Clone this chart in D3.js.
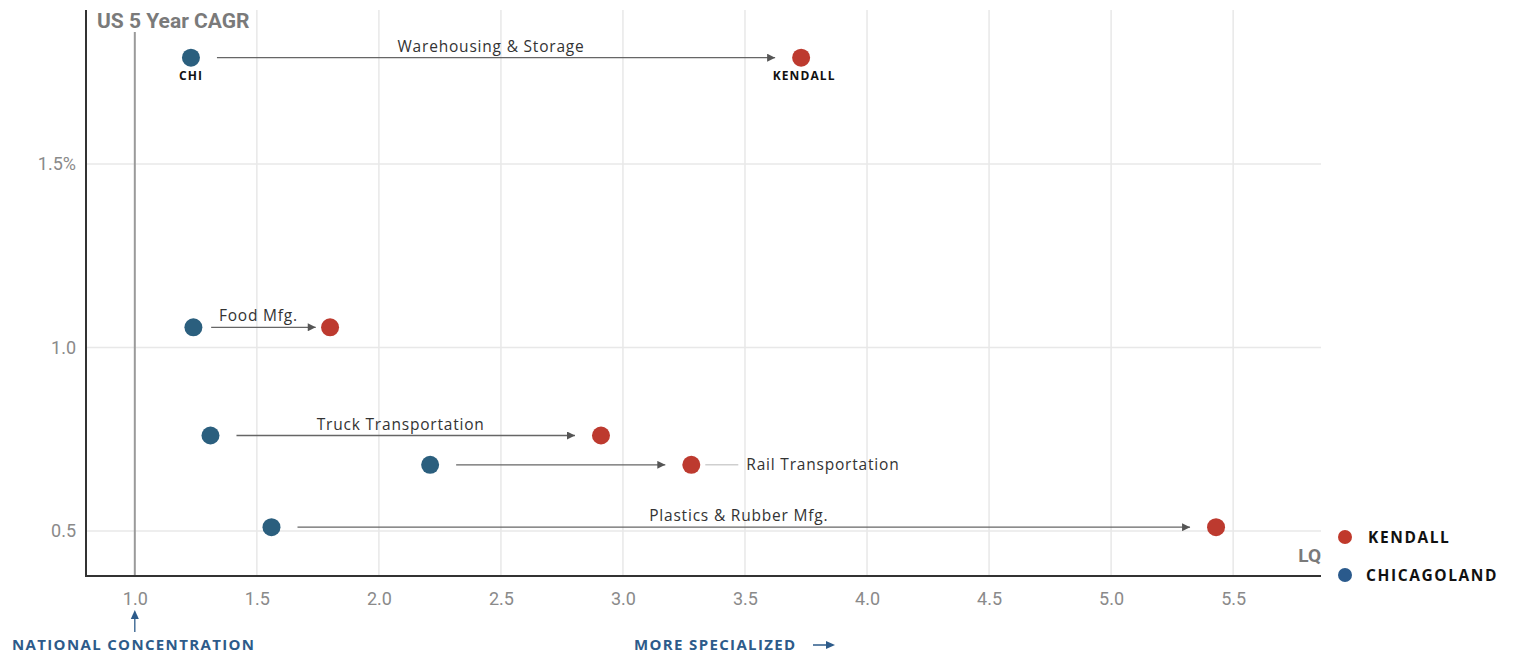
<!DOCTYPE html>
<html>
<head>
<meta charset="utf-8">
<script src="https://cdn.jsdelivr.net/npm/d3@7"></script>
<style>
  html, body { margin: 0; padding: 0; background: #fff; }
  svg { display: block; }
</style>
</head>
<body>
<svg id="chart" width="1519" height="653"></svg>
<script>
// Industry clusters: location quotient (LQ) for Chicagoland vs. Kendall,
// plotted against US 5-year CAGR.
const industries = ["Warehousing & Storage", "Food Mfg.", "Truck Transportation", "Rail Transportation", "Plastics & Rubber Mfg."];
const chicagolandLQ = [1.23, 1.24, 1.31, 2.21, 1.56];
const kendallLQ = [3.73, 1.80, 2.91, 3.28, 5.43];
const usCagr = [1.79, 1.055, 0.76, 0.68, 0.51];
const labelPlacement = ["above", "above", "above", "right", "above"];

const xTicks = [1.0, 1.5, 2.0, 2.5, 3.0, 3.5, 4.0, 4.5, 5.0, 5.5];
const xTickLabels = ["1.0", "1.5", "2.0", "2.5", "3.0", "3.5", "4.0", "4.5", "5.0", "5.5"];
const yTicks = [0.5, 1.0, 1.5];
const yTickLabels = ["0.5", "1.0", "1.5%"];

const seriesNames = ["KENDALL", "CHICAGOLAND"];
const seriesColors = { KENDALL: "#bd3a2f", CHICAGOLAND: "#2b5f7e" };
const legendColors = { KENDALL: "#c0392b", CHICAGOLAND: "#2a5a8c" };

const svg = d3.select("#chart");
const plotLeft = 86, plotRight = 1321, plotTop = 10, plotBottom = 576;

const x = d3.scaleLinear().domain([0.8, 5.86]).range([plotLeft, plotRight]);
const y = d3.scaleLinear().domain([0.377, 1.92]).range([plotBottom, plotTop]);

const labelFont = "'Open Sans', 'Noto Sans', sans-serif";
const tickFont = "Roboto, 'Noto Sans', sans-serif";

// Arrowhead marker
svg.append("defs").append("marker")
  .attr("id", "arrow")
  .attr("viewBox", "0 0 10 10")
  .attr("refX", 10).attr("refY", 5)
  .attr("markerWidth", 11).attr("markerHeight", 8)
  .attr("markerUnits", "userSpaceOnUse")
  .attr("orient", "auto")
  .append("path")
  .attr("d", "M0,0 L10,5 L0,10 Z")
  .attr("fill", "#555");

// Gridlines
const grid = svg.append("g");
grid.selectAll(".vgrid").data(xTicks.filter(d => d !== 1.0)).join("line")
  .attr("x1", d => x(d)).attr("x2", d => x(d))
  .attr("y1", plotTop).attr("y2", plotBottom)
  .attr("stroke", "#e8e8e8").attr("stroke-width", 1.5);
grid.selectAll(".hgrid").data(yTicks).join("line")
  .attr("x1", plotLeft).attr("x2", plotRight)
  .attr("y1", d => y(d)).attr("y2", d => y(d))
  .attr("stroke", "#e8e8e8").attr("stroke-width", 1.5);

// Axes (tick labels only, no tick marks)
const xAxis = d3.axisBottom(x).tickValues(xTicks)
  .tickFormat((d, i) => xTickLabels[i]).tickSize(0).tickPadding(16);
const gx = svg.append("g").attr("transform", `translate(0,${plotBottom})`).call(xAxis);
gx.select(".domain").remove();
gx.selectAll("text").attr("font-family", tickFont).attr("font-size", 18).attr("fill", "#8a8a8a");

const yAxis = d3.axisLeft(y).tickValues(yTicks)
  .tickFormat((d, i) => yTickLabels[i]).tickSize(0).tickPadding(10);
const gy = svg.append("g").attr("transform", `translate(${plotLeft},0)`).call(yAxis);
gy.select(".domain").remove();
gy.selectAll("text").attr("font-family", tickFont).attr("font-size", 18).attr("fill", "#8a8a8a");

// National concentration reference line at LQ = 1.0
svg.append("line")
  .attr("x1", x(1.0)).attr("x2", x(1.0))
  .attr("y1", 32).attr("y2", plotBottom)
  .attr("stroke", "#9a9a9a").attr("stroke-width", 2);

// Axis lines
svg.append("line").attr("x1", plotLeft).attr("x2", plotLeft).attr("y1", plotTop).attr("y2", plotBottom + 1)
  .attr("stroke", "#333").attr("stroke-width", 2);
svg.append("line").attr("x1", plotLeft).attr("x2", plotRight).attr("y1", plotBottom).attr("y2", plotBottom)
  .attr("stroke", "#333").attr("stroke-width", 2);

// Axis titles
svg.append("text").attr("x", 97).attr("y", 28)
  .attr("font-family", tickFont).attr("font-weight", 700).attr("font-size", 21)
  .attr("fill", "#7a7a7a").text("US 5 Year CAGR");
svg.append("text").attr("x", plotRight).attr("y", 562).attr("text-anchor", "end")
  .attr("font-family", tickFont).attr("font-weight", 700).attr("font-size", 19)
  .attr("fill", "#7a7a7a").text("LQ");

// Connecting arrows and industry labels
const rows = industries.map((name, i) => ({
  name, chi: chicagolandLQ[i], ken: kendallLQ[i], cagr: usCagr[i], place: labelPlacement[i]
}));

const links = svg.append("g");
rows.forEach(r => {
  const x0 = x(r.chi), x1 = x(r.ken), yy = y(r.cagr);
  const dx = x1 - x0;
  const sx = x0 + Math.min(26, dx * 0.13);
  const ex = x1 - Math.min(26, dx * 0.105);
  links.append("line")
    .attr("x1", sx).attr("x2", ex)
    .attr("y1", yy).attr("y2", yy)
    .attr("stroke", "#666").attr("stroke-width", 1.3)
    .attr("marker-end", "url(#arrow)");
  if (r.place === "above") {
    links.append("text")
      .attr("x", (sx + ex) / 2 - 5).attr("y", yy - 6)
      .attr("text-anchor", "middle")
      .attr("font-family", labelFont).attr("font-size", 15.5)
      .attr("letter-spacing", 0.8)
      .attr("fill", "#333").text(r.name);
  } else {
    links.append("line")
      .attr("x1", x1 + 14).attr("x2", x1 + 47)
      .attr("y1", yy).attr("y2", yy)
      .attr("stroke", "#cfcfcf").attr("stroke-width", 1.5);
    links.append("text")
      .attr("x", x1 + 55).attr("y", yy + 5)
      .attr("font-family", labelFont).attr("font-size", 15.5)
      .attr("letter-spacing", 0.8)
      .attr("fill", "#333").text(r.name);
  }
});

// Points
const pts = svg.append("g");
pts.selectAll(".chi").data(rows).join("circle")
  .attr("cx", d => x(d.chi)).attr("cy", d => y(d.cagr)).attr("r", 9)
  .attr("fill", seriesColors.CHICAGOLAND);
pts.selectAll(".ken").data(rows).join("circle")
  .attr("cx", d => x(d.ken)).attr("cy", d => y(d.cagr)).attr("r", 9)
  .attr("fill", seriesColors.KENDALL);

// Short region tags under the first pair
const first = rows[0];
svg.append("text").attr("x", x(first.chi)).attr("y", y(first.cagr) + 22)
  .attr("text-anchor", "middle").attr("font-family", labelFont)
  .attr("font-weight", 700).attr("font-size", 12).attr("letter-spacing", 1.1)
  .attr("fill", "#111").text("CHI");
svg.append("text").attr("x", x(first.ken) + 3).attr("y", y(first.cagr) + 22)
  .attr("text-anchor", "middle").attr("font-family", labelFont)
  .attr("font-weight", 700).attr("font-size", 12).attr("letter-spacing", 1.1)
  .attr("fill", "#111").text("KENDALL");

// Legend
const legend = svg.append("g");
seriesNames.forEach((name, i) => {
  const ly = 537 + i * 38;
  legend.append("circle").attr("cx", 1345).attr("cy", ly).attr("r", 7).attr("fill", legendColors[name]);
  legend.append("text").attr("x", i === 0 ? 1368 : 1366).attr("y", ly + 6)
    .attr("font-family", labelFont).attr("font-weight", 700).attr("font-size", 15.5)
    .attr("letter-spacing", 1.6).attr("fill", "#111").text(name);
});

// Bottom annotations
const blue = "#2d5b8a";
svg.append("line").attr("x1", x(1.0)).attr("x2", x(1.0)).attr("y1", 632).attr("y2", 616)
  .attr("stroke", blue).attr("stroke-width", 1.3);
svg.append("path")
  .attr("d", `M${x(1.0) - 4},${619} L${x(1.0)},${610} L${x(1.0) + 4},${619} Z`)
  .attr("fill", blue);
svg.append("text").attr("x", 12).attr("y", 650)
  .attr("font-family", labelFont).attr("font-weight", 700).attr("font-size", 15)
  .attr("letter-spacing", 1.35).attr("fill", blue).text("NATIONAL CONCENTRATION");
svg.append("text").attr("x", 634).attr("y", 650)
  .attr("font-family", labelFont).attr("font-weight", 700).attr("font-size", 15)
  .attr("letter-spacing", 1.35).attr("fill", blue).text("MORE SPECIALIZED");
svg.append("line").attr("x1", 813).attr("x2", 828).attr("y1", 645).attr("y2", 645)
  .attr("stroke", blue).attr("stroke-width", 1.5);
svg.append("path").attr("d", "M826,641 L835,645 L826,649 Z").attr("fill", blue);
</script>
</body>
</html>
